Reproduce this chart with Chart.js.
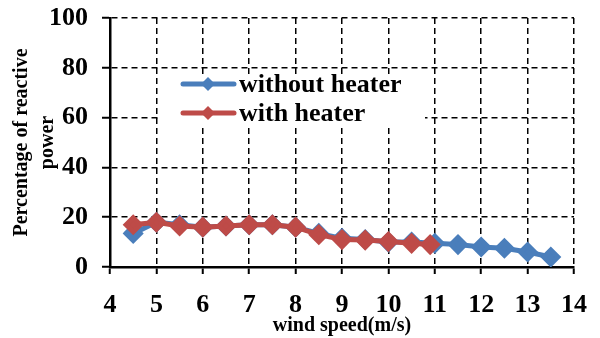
<!DOCTYPE html>
<html>
<head>
<meta charset="utf-8">
<script src="https://cdn.jsdelivr.net/npm/chart.js@4/dist/chart.umd.min.js"></script>
<style>
  html, body { margin: 0; padding: 0; background: #fff; }
  #wrap { width: 600px; height: 338px; }
</style>
</head>
<body>
<div id="wrap"><canvas id="powerChart"></canvas></div>
<script>
const windNoHeater = [4.5, 5, 5.5, 6, 6.5, 7, 7.5, 8, 8.5, 9, 9.5, 10, 10.5, 11, 11.5, 12, 12.5, 13, 13.5];
const pctNoHeater = [13.5, 18, 17, 16, 16.5, 17, 17, 16, 13.5, 11.5, 11, 10, 10, 9.5, 9, 8, 7.5, 6, 4];
const windHeater = [4.5, 5, 5.5, 6, 6.5, 7, 7.5, 8, 8.5, 9, 9.5, 10, 10.5, 10.9];
const pctHeater = [17, 18, 16.5, 16, 16.5, 17, 17, 16, 13, 11, 10.8, 10.2, 9.5, 9];

const blue = '#4a7ebb';
const red = '#be4b48';
const serif = '"Liberation Serif", "Times New Roman", serif';

function toPoints(xs, ys) {
    return xs.map((x, i) => ({ x: x, y: ys[i] }));
}

// legend drawn inside the plot, on a white box
const boxLegend = {
    id: 'boxLegend',
    afterDraw(chart) {
        const ctx = chart.ctx;
        const x0 = 160, y0 = 74, w = 265, h = 54;
        ctx.save();
        ctx.fillStyle = '#fff';
        ctx.fillRect(x0, y0, w, h);
        const items = [chart.data.datasets[0], chart.data.datasets[1]];
        items.forEach((ds, i) => {
            const y = y0 + 10 + i * 29;
            ctx.strokeStyle = ds.borderColor;
            ctx.lineWidth = 5;
            ctx.lineCap = 'round';
            ctx.beginPath();
            ctx.moveTo(183, y);
            ctx.lineTo(234, y);
            ctx.stroke();
            ctx.fillStyle = ds.borderColor;
            ctx.beginPath();
            ctx.moveTo(208, y - 7);
            ctx.lineTo(215, y);
            ctx.lineTo(208, y + 7);
            ctx.lineTo(201, y);
            ctx.closePath();
            ctx.fill();
            ctx.fillStyle = '#000';
            ctx.font = 'bold 26px ' + serif;
            ctx.textBaseline = 'middle';
            ctx.fillText(ds.label, 239, y + 1);
        });
        ctx.restore();
    }
};

new Chart(document.getElementById('powerChart'), {
    type: 'line',
    data: {
        datasets: [
            {
                label: 'without heater',
                data: toPoints(windNoHeater, pctNoHeater),
                borderColor: blue,
                backgroundColor: blue,
                borderWidth: 5,
                pointStyle: 'rectRot',
                pointRadius: 7,
                pointHoverRadius: 7,
                order: 2
            },
            {
                label: 'with heater',
                data: toPoints(windHeater, pctHeater),
                borderColor: red,
                backgroundColor: red,
                borderWidth: 5,
                pointStyle: 'rectRot',
                pointRadius: 7,
                pointHoverRadius: 7,
                order: 1
            }
        ]
    },
    options: {
        responsive: true,
        maintainAspectRatio: false,
        animation: false,
        layout: { padding: { top: 18, right: 26, left: 0, bottom: 0 } },
        plugins: {
            legend: { display: false },
            tooltip: { enabled: false }
        },
        scales: {
            x: {
                type: 'linear',
                min: 4,
                max: 14,
                afterFit: (scale) => { scale.height = 71; scale.paddingLeft = 0; scale.paddingRight = 0; },
                grid: { color: '#000', lineWidth: 1.5, tickLength: 7, tickColor: '#000', tickWidth: 2 },
                border: { color: '#000', width: 2.5, dash: [6, 4] },
                ticks: { stepSize: 1, color: '#000', font: { family: serif, size: 26, weight: 'bold' }, padding: 16, maxRotation: 0 },
                title: {
                    display: true,
                    text: 'wind speed(m/s)',
                    color: '#000',
                    font: { family: serif, size: 20, weight: 'bold' },
                    padding: { top: -8, bottom: 0 }
                }
            },
            y: {
                min: 0,
                max: 100,
                afterFit: (scale) => { scale.width = 110; scale.paddingTop = 0; scale.paddingBottom = 0; },
                grid: { color: '#000', lineWidth: 1.5, tickLength: 8, tickColor: '#000', tickWidth: 2 },
                border: { color: '#000', width: 2.5, dash: [6, 4] },
                ticks: { stepSize: 20, color: '#000', font: { family: serif, size: 26, weight: 'bold' }, padding: 14 },
                title: {
                    display: true,
                    text: ['Percentage of reactive', 'power'],
                    color: '#000',
                    font: { family: serif, size: 20, weight: 'bold', lineHeight: 1.3 },
                    padding: { top: 9, bottom: 0 }
                }
            }
        }
    },
    plugins: [boxLegend]
});
</script>
</body>
</html>
